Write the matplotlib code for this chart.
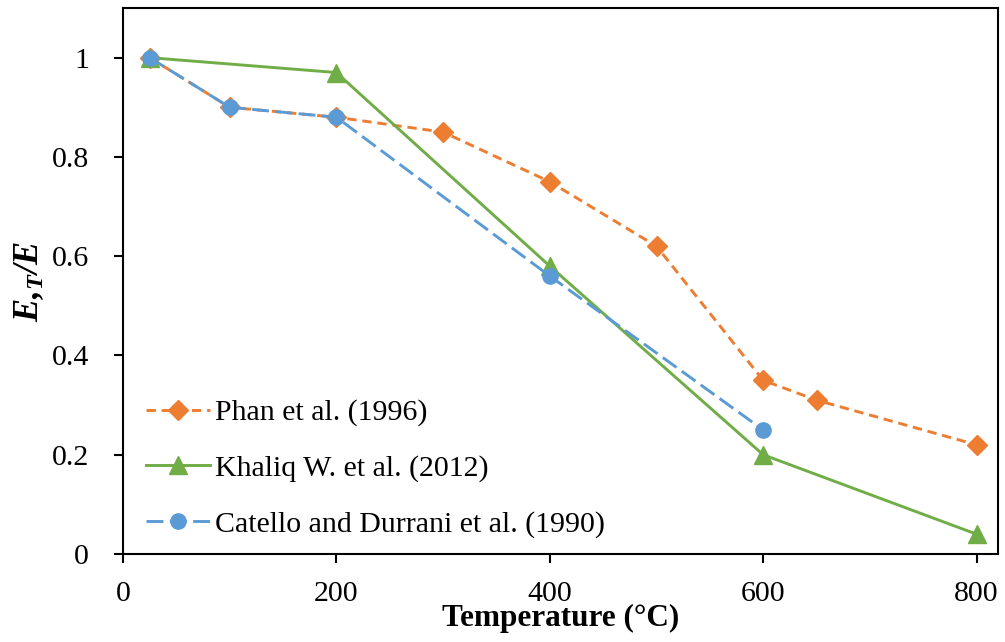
import matplotlib
matplotlib.use("Agg")
import matplotlib.pyplot as plt

# Elastic modulus ratio vs temperature
phan_t = [25, 100, 200, 300, 400, 500, 600, 650, 800]
phan_e = [1.0, 0.90, 0.88, 0.85, 0.75, 0.62, 0.35, 0.31, 0.22]

khaliq_t = [25, 200, 400, 600, 800]
khaliq_e = [1.0, 0.97, 0.58, 0.20, 0.04]

catello_t = [25, 100, 200, 400, 600]
catello_e = [1.0, 0.90, 0.88, 0.56, 0.25]

labels = ["Phan et al. (1996)", "Khaliq W. et al. (2012)",
          "Catello and Durrani et al. (1990)"]

plt.rcParams["font.family"] = ["Liberation Serif", "DejaVu Serif"]
plt.rcParams["mathtext.fontset"] = "custom"
plt.rcParams["mathtext.rm"] = "Liberation Serif:bold:italic"
plt.rcParams["mathtext.it"] = "Liberation Serif:bold:italic"
plt.rcParams["mathtext.bf"] = "Liberation Serif:bold:italic"

fig = plt.figure(figsize=(10.05, 6.42), dpi=100)
ax = fig.add_axes([0.1224, 0.137, 0.8706, 0.8505])

lw = 2.1
ax.plot(phan_t, phan_e, color="#ED7D31", lw=lw, dashes=(3.2, 2.0),
        marker="D", ms=10.5, label=labels[0])
ax.plot(khaliq_t, khaliq_e, color="#70AD47", lw=lw,
        marker="^", ms=12.5, label=labels[1])
ax.plot(catello_t, catello_e, color="#5B9BD5", lw=lw, dashes=(5.8, 2.2),
        marker="o", ms=11, label=labels[2])

ax.set_xlim(0, 820)
ax.set_ylim(0, 1.1)
ax.set_xticks([0, 200, 400, 600, 800])
ax.set_yticks([0, 0.2, 0.4, 0.6, 0.8, 1.0])
ax.set_yticklabels(["0", "0.2", "0.4", "0.6", "0.8", "1"])

for s in ax.spines.values():
    s.set_linewidth(1.5)
ax.tick_params(axis="both", direction="out", length=6.5, width=1.5,
               labelsize=21.5)
ax.tick_params(axis="y", pad=18)
ax.tick_params(axis="x", pad=13)

ax.set_xlabel("Temperature (°C)", fontsize=22.5, fontweight="bold",
              labelpad=-2)
ax.set_ylabel(r"$E{,}_{T}/E$", fontsize=25, labelpad=4)

ax.legend(loc="lower left", bbox_to_anchor=(0.007, 0.0), frameon=False,
          fontsize=21.5, handlelength=2.17, handletextpad=0.17,
          labelspacing=0.95, borderaxespad=0.15)

fig.savefig("out.png", dpi=100)
